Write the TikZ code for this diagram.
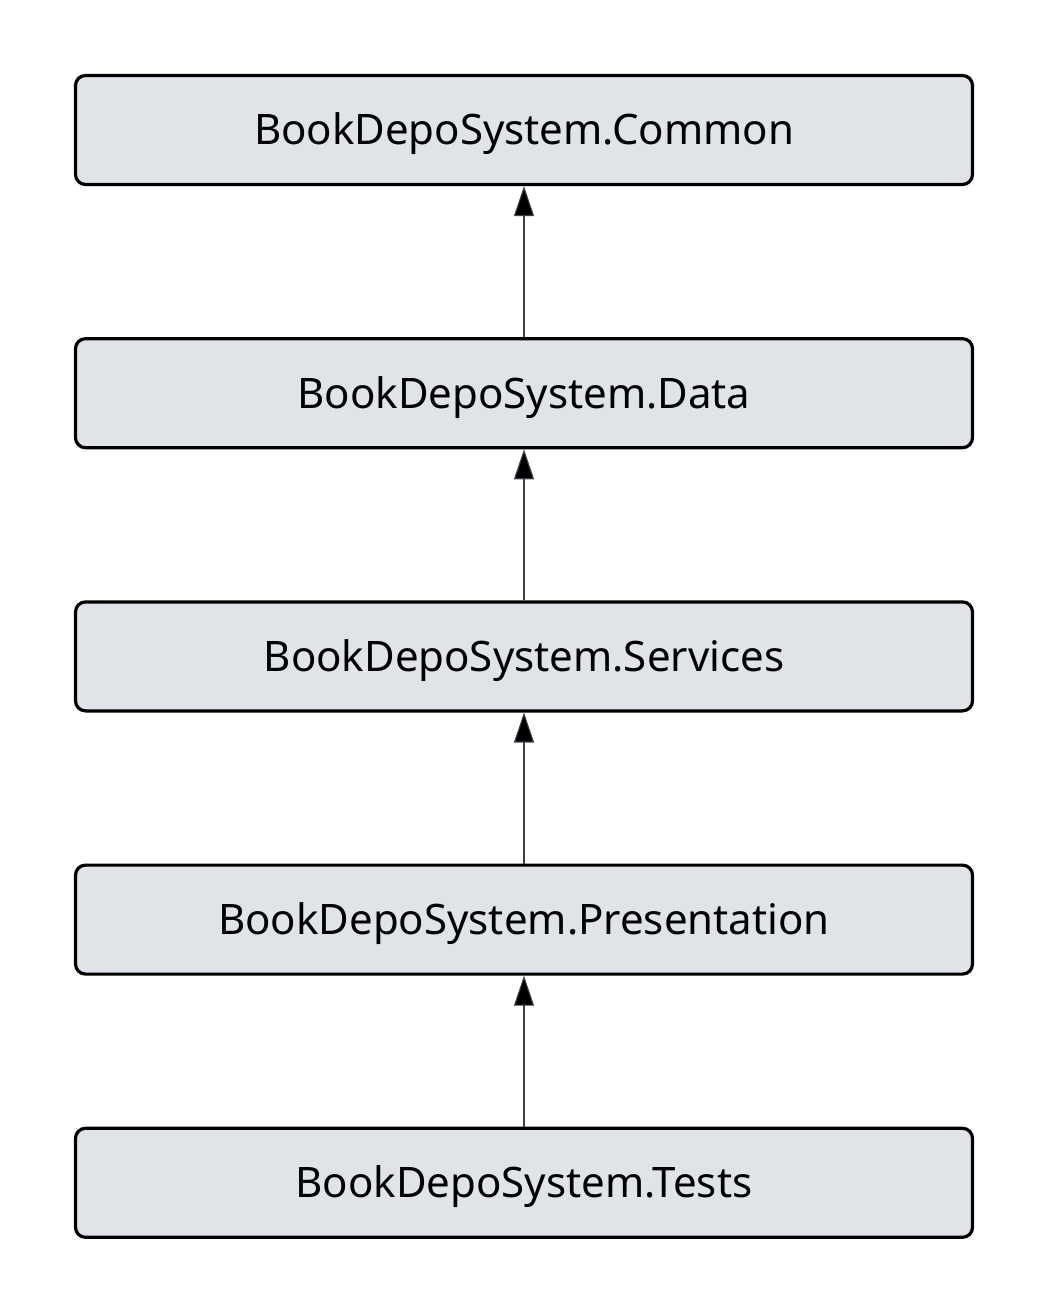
\documentclass[tikz,border=0pt]{standalone}
\usepackage{fontspec}
\setmainfont{Noto Sans}
\usetikzlibrary{arrows.meta,positioning}
\definecolor{boxfill}{HTML}{E0E3E8}
\definecolor{arrowgray}{HTML}{3B4049}

\begin{document}
\begin{tikzpicture}[x=1pt, y=1pt, node distance=151pt, semithick,
    layer/.style={draw=black, line width=3.2pt, fill=boxfill, rounded corners=10pt,
                  minimum width=897pt, minimum height=109pt, inner sep=0pt,
                  text height=30pt, text depth=0pt,
                  font=\fontsize{42}{50}\selectfont},
    dep/.style={draw=arrowgray, line width=1.1pt, -{Triangle[length=30pt,width=20pt]}}]
    \useasboundingbox (0,0) rectangle (1050,-1313);

    \node[layer]   (common)                        at (524,-130) {BookDepoSystem.Common};
    \node[layer]   (data)     [below=of common]                 {BookDepoSystem.Data};
    \node[layer]   (services) [below=of data]                   {BookDepoSystem.Services};
    \node[layer]   (pres)     [below=of services]               {BookDepoSystem.Presentation};
    \node[layer]   (tests)    [below=of pres]                   {BookDepoSystem.Tests};

    \path[dep]  (data)     edge (common)
                (services) edge (data)
                (pres)     edge (services)
                (tests)    edge (pres);
\end{tikzpicture}
\end{document}
